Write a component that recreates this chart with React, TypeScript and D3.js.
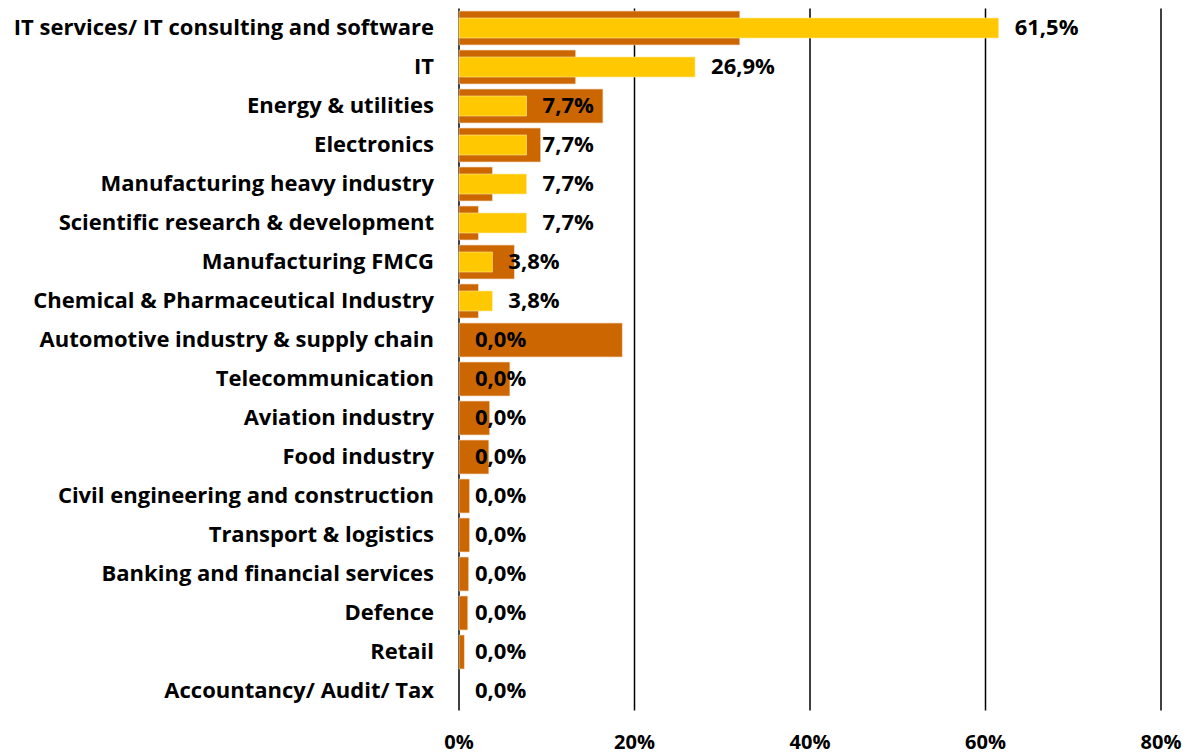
import React, { useEffect, useRef } from 'react';
import * as d3 from 'd3';

// categories, top to bottom
const categories = [
  'IT services/ IT consulting and software',
  'IT',
  'Energy & utilities',
  'Electronics',
  'Manufacturing heavy industry',
  'Scientific research & development',
  'Manufacturing FMCG',
  'Chemical & Pharmaceutical Industry',
  'Automotive industry & supply chain',
  'Telecommunication',
  'Aviation industry',
  'Food industry',
  'Civil engineering and construction',
  'Transport & logistics',
  'Banking and financial services',
  'Defence',
  'Retail',
  'Accountancy/ Audit/ Tax',
];

// wide background series (brown)
const brownValues = [32.0, 13.3, 16.4, 9.3, 3.8, 2.2, 6.3, 2.2, 18.6, 5.8, 3.5, 3.4, 1.2, 1.2, 1.1, 1.0, 0.6, 0];

// narrow foreground series (yellow), labelled
const yellowValues = [61.5, 26.9, 7.7, 7.7, 7.7, 7.7, 3.8, 3.8, 0, 0, 0, 0, 0, 0, 0, 0, 0, 0];

const ticks = [0, 20, 40, 60, 80];

const W = 1190;
const H = 755;
const left = 459;
const right = 1161;
const top = 8.5;
const bottom = 710.5;
const font = '"Open Sans", Lato, sans-serif';

export default function App() {
  const ref = useRef<SVGSVGElement>(null);

  useEffect(() => {
    const svg = d3.select(ref.current);
    svg.selectAll('*').remove();

    const x = d3.scaleLinear().domain([0, 80]).range([left, right]);
    const y = d3.scaleBand<string>().domain(categories).range([top, bottom]).paddingInner(0.13).paddingOuter(0.065);

    // gridlines
    svg.append('g')
      .selectAll('line')
      .data(ticks)
      .join('line')
      .attr('x1', d => x(d))
      .attr('x2', d => x(d))
      .attr('y1', top)
      .attr('y2', bottom)
      .attr('stroke', '#000')
      .attr('stroke-width', 1.5);

    // brown bars
    svg.append('g')
      .selectAll('rect')
      .data(brownValues)
      .join('rect')
      .attr('x', x(0))
      .attr('y', (d, i) => y(categories[i])!)
      .attr('width', d => x(d) - x(0))
      .attr('height', y.bandwidth())
      .attr('fill', '#CC6600')
      .attr('stroke', '#f3d6b8')
      .attr('stroke-width', d => (d > 0 ? 0.6 : 0));

    // yellow bars
    const yh = 20;
    svg.append('g')
      .selectAll('rect')
      .data(yellowValues)
      .join('rect')
      .attr('x', x(0))
      .attr('y', (d, i) => y(categories[i])! + y.bandwidth() / 2 - yh / 2)
      .attr('width', d => x(d) - x(0))
      .attr('height', yh)
      .attr('fill', '#FFC800')
      .attr('stroke', '#ffe9a0')
      .attr('stroke-width', d => (d > 0 ? 0.6 : 0));

    // value labels
    svg.append('g')
      .selectAll('text')
      .data(yellowValues)
      .join('text')
      .attr('x', d => x(d) + 16)
      .attr('y', (d, i) => y(categories[i])! + y.bandwidth() / 2)
      .attr('dy', '0.34em')
      .attr('font-family', font)
      .attr('font-weight', 700)
      .attr('font-size', 22)
      .attr('fill', '#000')
      .text(d => d.toFixed(1).replace('.', ',') + '%');

    // category labels
    svg.append('g')
      .selectAll('text')
      .data(categories)
      .join('text')
      .attr('x', left - 25)
      .attr('y', d => y(d)! + y.bandwidth() / 2)
      .attr('dy', '0.34em')
      .attr('text-anchor', 'end')
      .attr('font-family', font)
      .attr('font-weight', 700)
      .attr('font-size', 22)
      .attr('fill', '#000')
      .text(d => d);

    // x tick labels
    svg.append('g')
      .selectAll('text')
      .data(ticks)
      .join('text')
      .attr('x', d => x(d))
      .attr('y', 742)
      .attr('dy', '0.36em')
      .attr('text-anchor', 'middle')
      .attr('font-family', font)
      .attr('font-weight', 700)
      .attr('font-size', 20)
      .attr('fill', '#000')
      .text(d => d + '%');
  }, []);

  return (
    <svg
      ref={ref}
      width={W}
      height={H}
      style={{ position: 'absolute', left: 0, top: 0, background: '#fff' }}
    />
  );
}
